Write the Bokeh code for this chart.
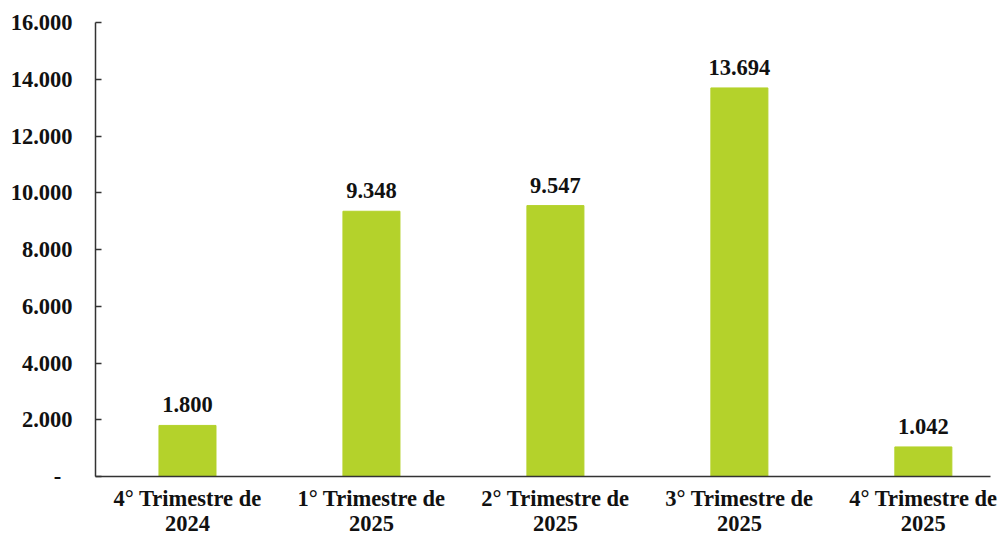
from bokeh.plotting import figure
from bokeh.models import Range1d, FixedTicker, ColumnDataSource, LabelSet
from bokeh.embed import file_html
from bokeh.resources import INLINE

categories = ["4° Trimestre de\n2024", "1° Trimestre de\n2025", "2° Trimestre de\n2025",
              "3° Trimestre de\n2025", "4° Trimestre de\n2025"]
values = [1800, 9348, 9547, 13694, 1042]
value_labels = ["1.800", "9.348", "9.547", "13.694", "1.042"]
y_ticks = [0, 2000, 4000, 6000, 8000, 10000, 12000, 14000, 16000]
y_tick_labels = ["-\u00a0\u00a0", "2.000", "4.000", "6.000", "8.000", "10.000", "12.000", "14.000", "16.000"]

xs = [i + 0.5 for i in range(len(categories))]
src = ColumnDataSource(dict(x=xs, top=values, label=value_labels))

FONT = "Liberation Serif"
FS = "22.5px"

p = figure(frame_width=895, frame_height=454, output_backend="svg", toolbar_location=None,
           x_range=Range1d(0, 4.865), y_range=Range1d(0, 16000),
           min_border_left=95, min_border_top=22, min_border_right=8, min_border_bottom=0)
p.outline_line_color = None
p.grid.grid_line_color = None

p.vbar(x="x", top="top", width=0.31, source=src, color="#b4d22b")

labels = LabelSet(x="x", y="top", text="label", source=src, text_align="center",
                  text_baseline="bottom", y_offset=13, text_font=FONT,
                  text_font_size=FS, text_font_style="bold", text_color="#111111")
p.add_layout(labels)

p.yaxis.ticker = FixedTicker(ticks=y_ticks)
p.yaxis.major_label_overrides = {t: l for t, l in zip(y_ticks, y_tick_labels)}
p.xaxis.ticker = FixedTicker(ticks=xs)
p.xaxis.major_label_overrides = {x: c for x, c in zip(xs, categories)}

for ax in (p.xaxis, p.yaxis):
    ax.axis_line_color = "#333333"
    ax.axis_line_width = 1.5
    ax.major_label_text_font = FONT
    ax.major_label_text_font_size = FS
    ax.major_label_text_font_style = "bold"
    ax.major_label_text_color = "#111111"
    ax.major_label_text_line_height = 1.0
    ax.minor_tick_line_color = None

p.yaxis.major_tick_in = 6
p.yaxis.major_tick_out = 0
p.yaxis.major_tick_line_color = "#333333"
p.yaxis.major_tick_line_width = 1.5
p.yaxis.major_label_standoff = 23
p.xaxis.major_tick_line_color = None
p.xaxis.major_tick_in = 0
p.xaxis.major_tick_out = 0
p.xaxis.major_label_standoff = 9

open("out.html", "w").write(file_html(p, INLINE))
